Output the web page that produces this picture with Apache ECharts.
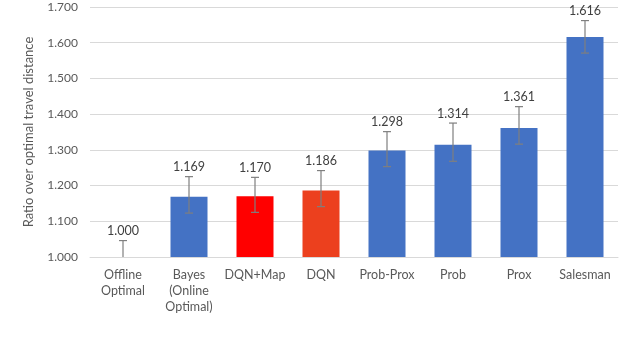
<!DOCTYPE html>
<html>
<head>
<meta charset="utf-8">
<script src="https://cdn.jsdelivr.net/npm/echarts@6/dist/echarts.min.js"></script>
<style>
  html, body { margin: 0; padding: 0; background: #fff; }
  #main { width: 640px; height: 343px; }
</style>
</head>
<body>
<div id="main"></div>
<script>
var categories = ['Offline\nOptimal', 'Bayes\n(Online\nOptimal)', 'DQN+Map', 'DQN', 'Prob-Prox', 'Prob', 'Prox', 'Salesman'];
var values = [1.000, 1.169, 1.170, 1.186, 1.298, 1.314, 1.361, 1.616];
var errLow = [0.954, 1.123, 1.125, 1.141, 1.253, 1.268, 1.316, 1.571];
var errHigh = [1.046, 1.225, 1.223, 1.242, 1.351, 1.375, 1.421, 1.662];
var barColors = ['#4472C4', '#4472C4', '#FF0000', '#EC401E', '#4472C4', '#4472C4', '#4472C4', '#4472C4'];
var yTicks = [1.0, 1.1, 1.2, 1.3, 1.4, 1.5, 1.6, 1.7];

var font = 'Lato, "Open Sans", sans-serif';
var myChart = echarts.init(document.getElementById('main'));

var barData = [];
for (var i = 0; i < values.length; i++) {
    barData.push({ value: values[i], itemStyle: { color: barColors[i] } });
}
// [index, low, high, value]
var errData = [];
for (var j = 0; j < values.length; j++) {
    errData.push([j, errLow[j], errHigh[j], values[j]]);
}

var option = {
    animation: false,
    grid: { left: 90, right: 22, top: 7, bottom: 86 },
    xAxis: {
        type: 'category',
        data: categories,
        axisLine: { lineStyle: { color: '#d9d9d9' } },
        axisTick: { show: false },
        axisLabel: { color: '#595959', fontFamily: font, fontSize: 12.5, lineHeight: 16, margin: 10, interval: 0 }
    },
    yAxis: {
        type: 'value',
        min: yTicks[0],
        max: yTicks[yTicks.length - 1],
        interval: 0.1,
        name: 'Ratio over optimal travel distance',
        nameLocation: 'middle',
        nameGap: 55,
        nameTextStyle: { color: '#595959', fontFamily: font, fontSize: 13 },
        axisLine: { show: false },
        axisTick: { show: false },
        splitLine: { lineStyle: { color: '#d9d9d9' } },
        axisLabel: {
            color: '#595959', fontFamily: font, fontSize: 12, margin: 12,
            formatter: function (v) { return v.toFixed(3); }
        }
    },
    series: [
        {
            type: 'bar',
            data: barData,
            barWidth: 37,
            clip: true
        },
        {
            // error bars
            type: 'custom',
            data: errData,
            clip: true,
            z: 5,
            renderItem: function (params, api) {
                var x = api.value(0);
                var hi = api.coord([x, api.value(2)]);
                var lo = api.coord([x, api.value(1)]);
                var cap = 4;
                var st = { stroke: '#7f7f7f', lineWidth: 1.2 };
                return {
                    type: 'group',
                    children: [
                        { type: 'line', shape: { x1: hi[0], y1: hi[1], x2: lo[0], y2: lo[1] }, style: st },
                        { type: 'line', shape: { x1: hi[0] - cap, y1: hi[1], x2: hi[0] + cap, y2: hi[1] }, style: st },
                        { type: 'line', shape: { x1: lo[0] - cap, y1: lo[1], x2: lo[0] + cap, y2: lo[1] }, style: st }
                    ]
                };
            }
        },
        {
            // value labels above the error bars
            type: 'custom',
            data: errData,
            clip: false,
            z: 6,
            renderItem: function (params, api) {
                var x = api.value(0);
                var hi = api.coord([x, api.value(2)]);
                return {
                    type: 'text',
                    x: hi[0],
                    y: hi[1] - 3,
                    style: {
                        text: api.value(3).toFixed(3),
                        fill: '#404040',
                        font: '12.5px ' + font,
                        textAlign: 'center',
                        textVerticalAlign: 'bottom'
                    }
                };
            }
        }
    ]
};

myChart.setOption(option);
window.addEventListener('resize', function () {
    myChart.resize();
});
</script>
</body>
</html>
